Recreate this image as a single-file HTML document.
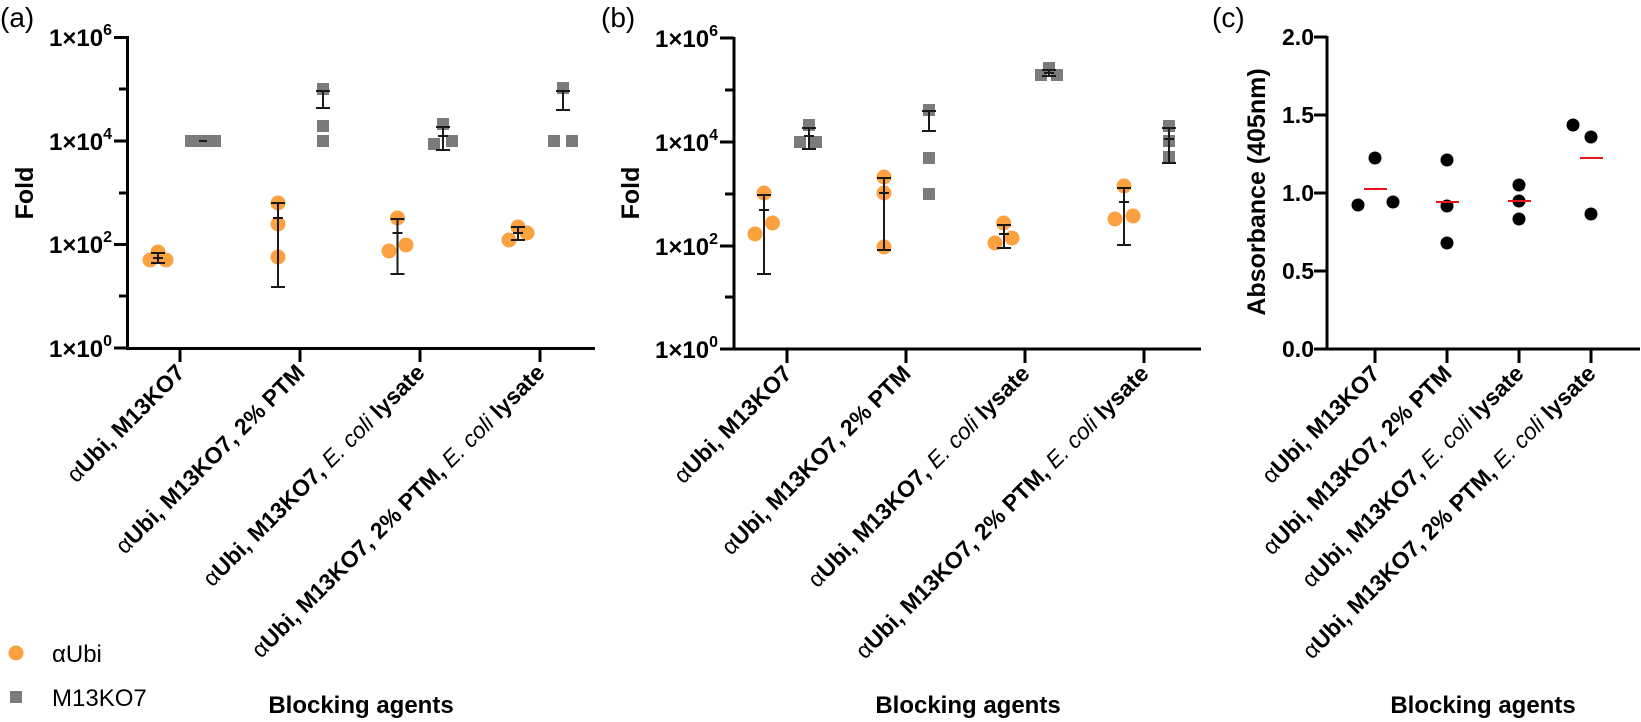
<!DOCTYPE html>
<html><head><meta charset="utf-8"><style>
html,body{margin:0;padding:0;background:#fff}
svg{display:block;font-family:"Liberation Sans",Arial,sans-serif}
.tk{font-size:24px;font-weight:bold}
.tc{font-size:23px;font-weight:bold}
.xl{font-size:23px;font-weight:bold}
.n{font-weight:normal}
.it{font-weight:normal;font-style:italic}
</style></head><body>
<svg width="1641" height="722" viewBox="0 0 1641 722" xmlns="http://www.w3.org/2000/svg">
<text x="0" y="27" font-size="28">(a)</text>
<text x="601" y="27" font-size="28">(b)</text>
<text x="1212" y="27" font-size="28">(c)</text>

<!-- ===== Panel A ===== -->
<g stroke="#000" stroke-width="3" fill="none">
<path d="M127.5 36 V348.5 H595"/>
<path d="M114 37.5 H127.5 M114 141 H127.5 M114 244.5 H127.5 M114 348 H127.5 M119 89 H127.5 M119 193 H127.5 M119 296 H127.5"/>
<path d="M180 348 V362 M300 348 V362 M420 348 V362 M540 348 V362"/>
</g>
<g class="tk" text-anchor="end">
<text x="112" y="46">1×10<tspan dy="-11" font-size="16">6</tspan></text>
<text x="112" y="150">1×10<tspan dy="-11" font-size="16">4</tspan></text>
<text x="112" y="253">1×10<tspan dy="-11" font-size="16">2</tspan></text>
<text x="112" y="357">1×10<tspan dy="-11" font-size="16">0</tspan></text>
</g>
<text transform="translate(33,193) rotate(-90)" text-anchor="middle" font-size="25" font-weight="bold">Fold</text>

<g fill="#7b7b7b">
<rect x="185" y="135" width="12" height="12"/><rect x="197" y="135" width="12" height="12"/><rect x="209" y="135" width="12" height="12"/>
<rect x="317" y="83" width="12" height="12"/><rect x="317" y="120" width="12" height="12"/><rect x="317" y="135" width="12" height="12"/>
<rect x="428" y="138" width="12" height="12"/><rect x="437" y="118" width="12" height="12"/><rect x="446" y="135" width="12" height="12"/>
<rect x="557" y="82" width="12" height="12"/><rect x="548" y="135" width="12" height="12"/><rect x="566" y="135" width="12" height="12"/>
</g>
<g fill="#FBA140">
<circle cx="150" cy="260" r="7.5"/><circle cx="158" cy="252" r="7.5"/><circle cx="166" cy="260" r="7.5"/>
<circle cx="278" cy="203" r="7.5"/><circle cx="278" cy="224" r="7.5"/><circle cx="278" cy="257" r="7.5"/>
<circle cx="389" cy="251" r="7.5"/><circle cx="397.5" cy="218" r="7.5"/><circle cx="406" cy="245" r="7.5"/>
<circle cx="509" cy="240" r="7.5"/><circle cx="518" cy="227" r="7.5"/><circle cx="527" cy="233" r="7.5"/>
</g>
<g stroke="#1a1a1a" stroke-width="2" fill="none">
<path d="M158 253 V263 M151 253 H165 M151 263 H165 M153 258 H163"/>
<path d="M199 141 H207"/>
<path d="M278 203 V287 M271 203 H285 M271 287 H285 M273 218 H283"/>
<path d="M323 91 V108 M316 91 H330 M316 108 H330"/>
<path d="M397.5 219 V274 M390.5 219 H404.5 M390.5 274 H404.5 M392.5 233 H402.5"/>
<path d="M443 127 V150 M436 127 H450 M436 150 H450 M438 136 H448"/>
<path d="M518 227 V240 M511 227 H525 M511 240 H525 M513 233 H523"/>
<path d="M563 91 V110 M556 91 H570 M556 110 H570"/>
</g>
<g class="xl" text-anchor="end">
<text transform="translate(186,374) rotate(-45)"><tspan class="n">α</tspan>Ubi, M13KO7</text>
<text transform="translate(306,374) rotate(-45)"><tspan class="n">α</tspan>Ubi, M13KO7, 2% PTM</text>
<text transform="translate(426,374) rotate(-45)"><tspan class="n">α</tspan>Ubi, M13KO7, <tspan class="it">E. coli</tspan> lysate</text>
<text transform="translate(546,374) rotate(-45)"><tspan class="n">α</tspan>Ubi, M13KO7, 2% PTM, <tspan class="it">E. coli</tspan> lysate</text>
</g>
<text x="361" y="713" text-anchor="middle" font-size="24" font-weight="bold">Blocking agents</text>
<circle cx="16" cy="653" r="7.5" fill="#FBA140"/>
<rect x="10" y="691" width="12" height="12" fill="#7b7b7b"/>
<text x="52" y="662" font-size="24">αUbi</text>
<text x="52" y="706" font-size="24">M13KO7</text>

<!-- ===== Panel B ===== -->
<g stroke="#000" stroke-width="3" fill="none">
<path d="M734 37 V349 H1201"/>
<path d="M720 38 H734 M720 142 H734 M720 246 H734 M720 349 H734 M725 90 H734 M725 194 H734 M725 297 H734"/>
<path d="M787 349 V363 M906 349 V363 M1025 349 V363 M1144 349 V363"/>
</g>
<g class="tk" text-anchor="end">
<text x="718" y="47">1×10<tspan dy="-11" font-size="16">6</tspan></text>
<text x="718" y="151">1×10<tspan dy="-11" font-size="16">4</tspan></text>
<text x="718" y="255">1×10<tspan dy="-11" font-size="16">2</tspan></text>
<text x="718" y="358">1×10<tspan dy="-11" font-size="16">0</tspan></text>
</g>
<text transform="translate(639,193) rotate(-90)" text-anchor="middle" font-size="25" font-weight="bold">Fold</text>

<g fill="#7b7b7b">
<rect x="803" y="119" width="12" height="12"/><rect x="794" y="136" width="12" height="12"/><rect x="810" y="136" width="12" height="12"/>
<rect x="923" y="104" width="12" height="12"/><rect x="923" y="152" width="12" height="12"/><rect x="923" y="188" width="12" height="12"/>
<rect x="1035" y="69" width="12" height="12"/><rect x="1043" y="62" width="12" height="12"/><rect x="1051" y="69" width="12" height="12"/>
<rect x="1163" y="120" width="12" height="12"/><rect x="1163" y="135" width="12" height="12"/><rect x="1163" y="151" width="12" height="12"/>
</g>
<g fill="#FBA140">
<circle cx="755" cy="234" r="7.5"/><circle cx="764" cy="193" r="7.5"/><circle cx="772.5" cy="223" r="7.5"/>
<circle cx="884" cy="177" r="7.5"/><circle cx="884" cy="193" r="7.5"/><circle cx="884" cy="247" r="7.5"/>
<circle cx="995" cy="243" r="7.5"/><circle cx="1003.6" cy="223" r="7.5"/><circle cx="1012" cy="238" r="7.5"/>
<circle cx="1115" cy="219" r="7.5"/><circle cx="1124" cy="186" r="7.5"/><circle cx="1133" cy="216" r="7.5"/>
</g>
<g stroke="#1a1a1a" stroke-width="2" fill="none">
<path d="M764 195 V274 M757 195 H771 M757 274 H771 M759 210 H769"/>
<path d="M809 128 V149 M802 128 H816 M802 149 H816 M804 136 H814"/>
<path d="M884 178 V250 M877 178 H891 M877 250 H891 M879 193 H889"/>
<path d="M929 111 V131 M922 111 H936 M922 131 H936"/>
<path d="M1004 225 V248 M997 225 H1011 M997 248 H1011 M999 234 H1009"/>
<path d="M1049 70 V76 M1042 70 H1056 M1042 76 H1056 M1044 73 H1054"/>
<path d="M1124 188 V245 M1117 188 H1131 M1117 245 H1131 M1119 202 H1129"/>
<path d="M1169 128 V163 M1162 128 H1176 M1162 163 H1176 M1164 139 H1174"/>
</g>
<g class="xl" text-anchor="end">
<text transform="translate(793,375) rotate(-45)"><tspan class="n">α</tspan>Ubi, M13KO7</text>
<text transform="translate(912,375) rotate(-45)"><tspan class="n">α</tspan>Ubi, M13KO7, 2% PTM</text>
<text transform="translate(1031,375) rotate(-45)"><tspan class="n">α</tspan>Ubi, M13KO7, <tspan class="it">E. coli</tspan> lysate</text>
<text transform="translate(1150,375) rotate(-45)"><tspan class="n">α</tspan>Ubi, M13KO7, 2% PTM, <tspan class="it">E. coli</tspan> lysate</text>
</g>
<text x="968" y="713" text-anchor="middle" font-size="24" font-weight="bold">Blocking agents</text>

<!-- ===== Panel C ===== -->
<g stroke="#000" stroke-width="3" fill="none">
<path d="M1327 36 V349 H1640"/>
<path d="M1314 37 H1327 M1314 115 H1327 M1314 193 H1327 M1314 271 H1327 M1314 349 H1327"/>
<path d="M1375 349 V363 M1447 349 V363 M1519 349 V363 M1591 349 V363"/>
</g>
<g class="tc" text-anchor="end">
<text x="1314" y="45">2.0</text>
<text x="1314" y="123">1.5</text>
<text x="1314" y="201">1.0</text>
<text x="1314" y="279">0.5</text>
<text x="1314" y="357">0.0</text>
</g>
<text transform="translate(1265,192) rotate(-90)" text-anchor="middle" font-size="25" font-weight="bold">Absorbance (405nm)</text>
<g fill="#000">
<circle cx="1358" cy="205" r="6.5"/><circle cx="1375" cy="158" r="6.5"/><circle cx="1393" cy="202" r="6.5"/>
<circle cx="1447" cy="160" r="6.5"/><circle cx="1447" cy="206" r="6.5"/><circle cx="1447" cy="243" r="6.5"/>
<circle cx="1519" cy="185" r="6.5"/><circle cx="1519" cy="201" r="6.5"/><circle cx="1519" cy="219" r="6.5"/>
<circle cx="1573" cy="125" r="6.5"/><circle cx="1591" cy="137" r="6.5"/><circle cx="1591" cy="214" r="6.5"/>
</g>
<g stroke="#e8141c" stroke-width="2">
<path d="M1364 189 H1387 M1436 202 H1459 M1508 201 H1531 M1580 158 H1603"/>
</g>
<g class="xl" text-anchor="end">
<text transform="translate(1381,375) rotate(-45)"><tspan class="n">α</tspan>Ubi, M13KO7</text>
<text transform="translate(1453,375) rotate(-45)"><tspan class="n">α</tspan>Ubi, M13KO7, 2% PTM</text>
<text transform="translate(1525,375) rotate(-45)"><tspan class="n">α</tspan>Ubi, M13KO7, <tspan class="it">E. coli</tspan> lysate</text>
<text transform="translate(1597,375) rotate(-45)"><tspan class="n">α</tspan>Ubi, M13KO7, 2% PTM, <tspan class="it">E. coli</tspan> lysate</text>
</g>
<text x="1483" y="713" text-anchor="middle" font-size="24" font-weight="bold">Blocking agents</text>
</svg>
</body></html>
